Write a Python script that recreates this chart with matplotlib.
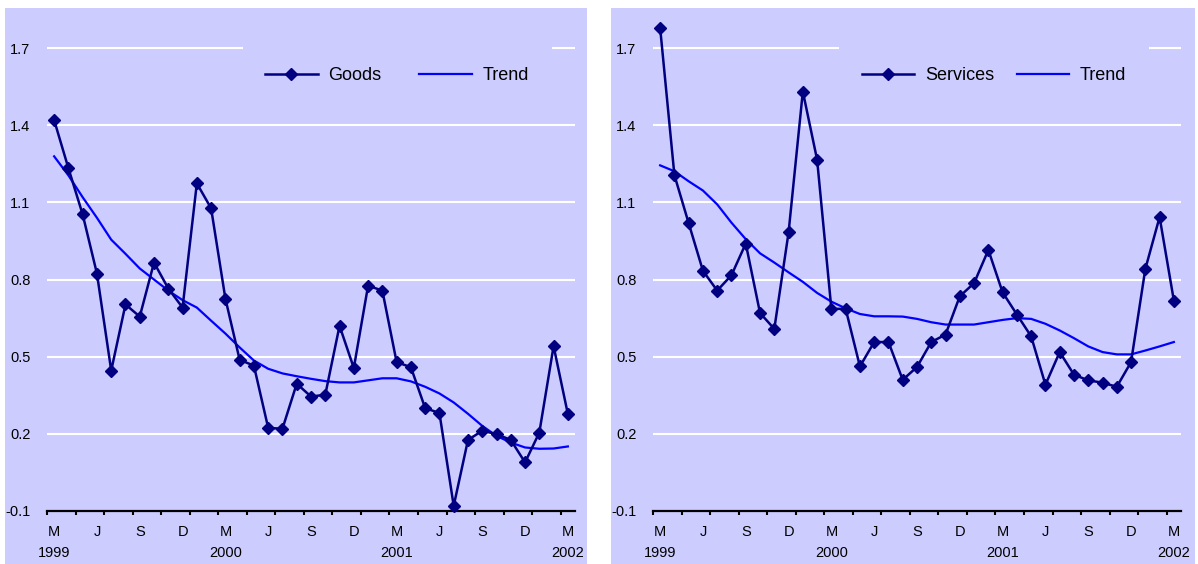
import matplotlib.pyplot as plt
from matplotlib.patches import Rectangle

# monthly, Mar 1999 .. Mar 2002
months = ['M', 'A', 'M', 'J', 'J', 'A', 'S', 'O', 'N', 'D', 'J', 'F'] * 3 + ['M']
years = {0: '1999', 12: '2000', 24: '2001', 36: '2002'}

goods = [1.42, 1.233, 1.053, 0.823, 0.446, 0.703, 0.656, 0.866, 0.765, 0.691,
         1.174, 1.077, 0.726, 0.488, 0.465, 0.223, 0.220, 0.395, 0.345, 0.352,
         0.620, 0.456, 0.776, 0.757, 0.479, 0.459, 0.300, 0.281, -0.08, 0.176,
         0.212, 0.199, 0.176, 0.089, 0.205, 0.541, 0.277]
goods_trend = [1.279, 1.205, 1.12, 1.04, 0.955, 0.9, 0.843, 0.8, 0.757, 0.72,
               0.691, 0.64, 0.59, 0.536, 0.485, 0.453, 0.435, 0.424, 0.414, 0.405,
               0.40, 0.40, 0.408, 0.416, 0.416, 0.404, 0.383, 0.357, 0.322, 0.278,
               0.231, 0.192, 0.166, 0.147, 0.142, 0.143, 0.151]

services = [1.779, 1.206, 1.019, 0.834, 0.757, 0.817, 0.94, 0.67, 0.608, 0.983,
            1.531, 1.266, 0.686, 0.686, 0.462, 0.557, 0.557, 0.41, 0.46, 0.557,
            0.586, 0.735, 0.786, 0.915, 0.75, 0.664, 0.579, 0.391, 0.518, 0.43,
            0.408, 0.399, 0.383, 0.479, 0.841, 1.043, 0.718]
services_trend = [1.244, 1.221, 1.182, 1.146, 1.092, 1.021, 0.957, 0.902, 0.866, 0.828,
                  0.791, 0.748, 0.714, 0.688, 0.666, 0.657, 0.657, 0.656, 0.647, 0.634,
                  0.625, 0.625, 0.625, 0.634, 0.643, 0.65, 0.647, 0.628, 0.602, 0.572,
                  0.54, 0.518, 0.509, 0.509, 0.524, 0.54, 0.557]

yticks = [-0.1, 0.2, 0.5, 0.8, 1.1, 1.4, 1.7]

bg = '#ccccff'
navy = '#000080'
blue = '#0000ff'

plt.rcParams['font.family'] = ['Liberation Sans', 'DejaVu Sans']

W, H = 1198, 564
fig = plt.figure(figsize=(W / 100, H / 100), dpi=100)
fig.patch.set_facecolor('white')

# panel backgrounds (pixels: x0, x1)
for x0, x1 in [(5, 587), (611, 1195)]:
    fig.patches.append(Rectangle((x0 / W, 0), (x1 - x0) / W, (H - 8) / H,
                                 transform=fig.transFigure, facecolor=bg,
                                 edgecolor='none', zorder=-10))

panels = [(47, goods, goods_trend, 'Goods', 0.663, 2.1),
          (653, services, services_trend, 'Services', 0.646, 1.25)]

x = list(range(len(months)))
for left_px, series, trend, name, lx, colsp in panels:
    ax = fig.add_axes([left_px / W, 53 / H, 528 / W, 501.5 / H])
    ax.set_facecolor('none')
    for y in yticks[1:]:
        ax.axhline(y, color='white', lw=1.5, zorder=1)
    l1, = ax.plot(x, series, color=navy, lw=1.8, marker='D', ms=6, zorder=3,
                  clip_on=False, label=name)
    l2, = ax.plot(x, trend, color=blue, lw=1.6, zorder=2, label='Trend')
    ax.set_xlim(-0.5, 36.5)
    ax.set_ylim(-0.1, 1.85)
    ax.set_yticks(yticks)
    ax.set_yticklabels(['%.1f' % v for v in yticks])
    ax.tick_params(axis='y', length=0, pad=12, labelsize=10.5)

    ax.set_xticks([i - 0.5 for i in range(0, 37, 2)], minor=True)
    ax.set_xticks(range(0, 37, 3))
    ax.set_xticklabels([months[i] + ('\n' + years[i] if i in years else '\n')
                        for i in range(0, 37, 3)])
    for t in ax.get_xticklabels():
        t.set_linespacing(1.65)
    ax.tick_params(axis='x', which='major', length=0, pad=10, labelsize=10.5)
    ax.tick_params(axis='x', which='minor', length=3, width=1.5, color='black')

    for s in ['top', 'right', 'left']:
        ax.spines[s].set_visible(False)
    ax.spines['bottom'].set_linewidth(1.6)

    leg = ax.legend(handles=[l1, l2], loc='center', bbox_to_anchor=(lx, 0.868),
                    ncol=2, frameon=True, facecolor=bg, edgecolor='none',
                    framealpha=1, fontsize=13, handlelength=2.9,
                    handletextpad=0.6, columnspacing=colsp, borderpad=1.25)
    leg.get_frame().set_linewidth(0)

fig.savefig('out.png', dpi=100)
